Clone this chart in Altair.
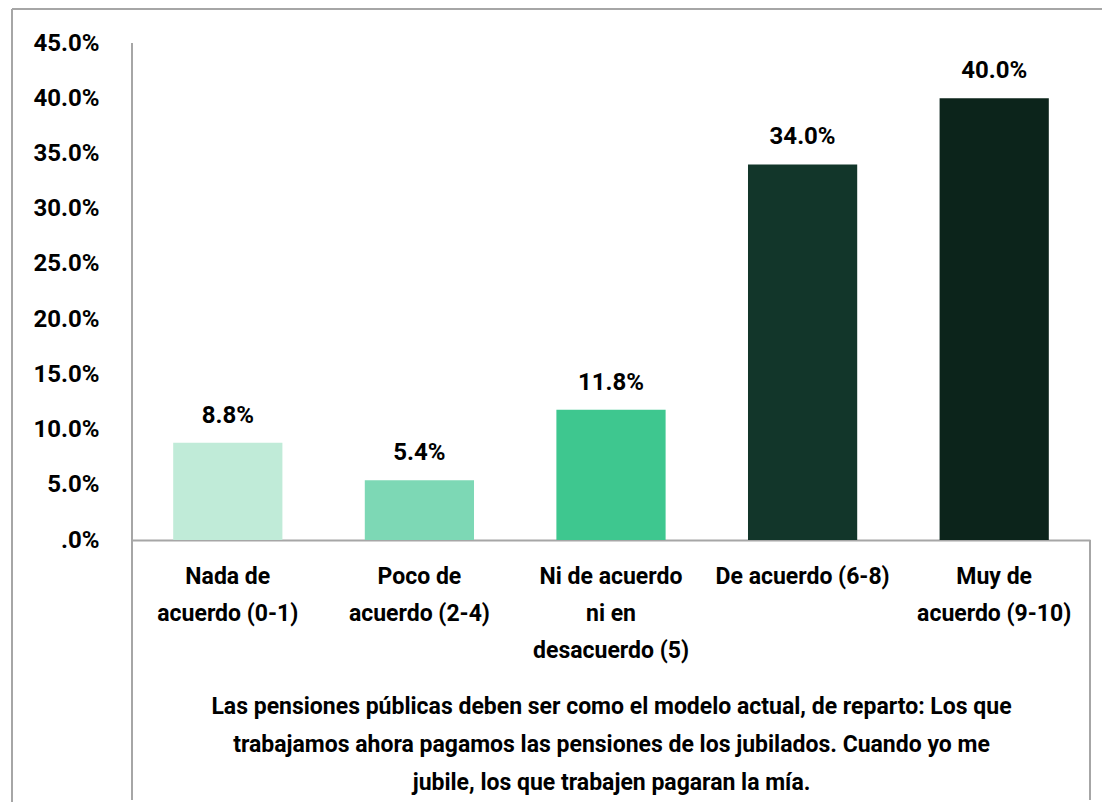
import altair as alt
import pandas as pd

categories = [
    "Nada de|acuerdo (0-1)",
    "Poco de|acuerdo (2-4)",
    "Ni de acuerdo|ni en|desacuerdo (5)",
    "De acuerdo (6-8)",
    "Muy de|acuerdo (9-10)",
]
values = [0.088, 0.054, 0.118, 0.340, 0.400]
bar_colors = ["#C0EBD8", "#7DD8B5", "#3EC78F", "#12362A", "#0C241B"]
y_ticks = [0.0, 0.05, 0.10, 0.15, 0.20, 0.25, 0.30, 0.35, 0.40, 0.45]
title_lines = [
    "Las pensiones públicas deben ser como el modelo actual, de reparto: Los que",
    "trabajamos ahora pagamos las pensiones de los jubilados. Cuando yo me",
    "jubile, los que trabajen pagaran la mía.",
]

FONT = "Roboto, sans-serif"
GRAY = "#A6A6A6"
W, H = 958, 497

df = pd.DataFrame({"cat": categories, "val": values, "color": bar_colors})

x_enc = alt.X(
    "cat:N",
    sort=categories,
    scale=alt.Scale(paddingInner=0.43, paddingOuter=0.215),
    axis=alt.Axis(
        title=title_lines,
        titleFont=FONT,
        titleFontSize=23,
        titleFontWeight="bold",
        titleColor="#000000",
        titleLineHeight=38,
        titleBaseline="middle",
        titleY=166,
        titleX=W / 2,
        labelExpr="split(datum.label, '|')",
        labelFont=FONT,
        labelFontSize=23,
        labelFontWeight="bold",
        labelColor="#000000",
        labelLineHeight=37,
        labelBaseline="top",
        labelPadding=25,
        labelAngle=0,
        labelLimit=0,
        ticks=False,
        domainColor=GRAY,
        domainWidth=2,
    ),
)

y_enc = alt.Y(
    "val:Q",
    scale=alt.Scale(domain=[0, 0.45], nice=False),
    axis=alt.Axis(
        title=None,
        values=y_ticks,
        labelExpr="datum.value == 0 ? '.0%' : format(datum.value, '.1%')",
        labelFont=FONT,
        labelFontSize=24,
        labelFontWeight="bold",
        labelColor="#000000",
        labelPadding=33,
        ticks=False,
        domain=False,
        grid=False,
    ),
)

bars = alt.Chart(df).mark_bar().encode(
    x=x_enc,
    y=y_enc,
    color=alt.Color("color:N", scale=None),
)

labels = alt.Chart(df).mark_text(
    font=FONT, fontSize=24, fontWeight="bold", color="#000000",
    baseline="alphabetic", dy=-20,
).encode(
    x=alt.X("cat:N", sort=categories),
    y=alt.Y("val:Q"),
    text=alt.Text("val:Q", format=".1%"),
)

frame_df = pd.DataFrame({"k": [0]})
left_rule = alt.Chart(frame_df).mark_rule(color=GRAY, strokeWidth=2).encode(
    x=alt.value(0), y=alt.value(0), y2=alt.value(757)
)
right_rule = alt.Chart(frame_df).mark_rule(color=GRAY, strokeWidth=2).encode(
    x=alt.value(W), y=alt.value(H), y2=alt.value(757)
)
outer_left = alt.Chart(frame_df).mark_rule(color=GRAY, strokeWidth=2).encode(
    x=alt.value(-120), y=alt.value(-34), y2=alt.value(800)
)
outer_top = alt.Chart(frame_df).mark_rule(color=GRAY, strokeWidth=2).encode(
    x=alt.value(-120), x2=alt.value(1100), y=alt.value(-34)
)

chart = alt.layer(bars, labels, left_rule, right_rule, outer_left, outer_top).properties(
    width=W,
    height=H,
    autosize=alt.AutoSizeParams(type="none"),
    padding={"left": 124, "top": 35, "right": 12, "bottom": 262},
).configure(background="#FFFFFF").configure_view(stroke=None)

chart.save("out.html", embed_options={"renderer": "svg", "actions": False})
